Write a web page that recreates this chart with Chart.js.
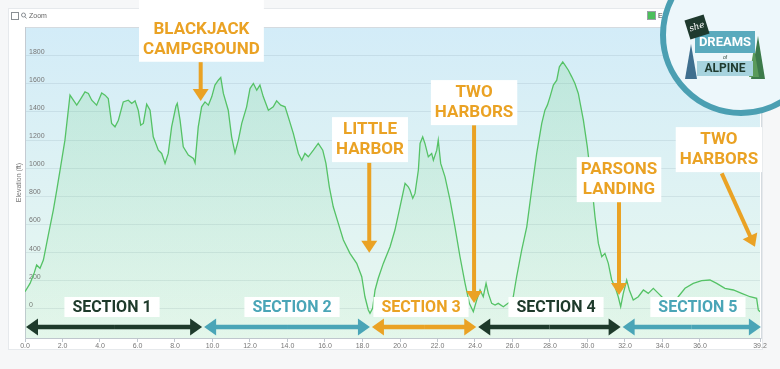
<!DOCTYPE html>
<html>
<head>
<meta charset="utf-8">
<script src="https://cdn.jsdelivr.net/npm/chart.js@4"></script>
<style>
  html, body { margin: 0; padding: 0; background: #f6f7f8; }
  #wrap { width: 780px; height: 369px; }
</style>
</head>
<body>
<div id="wrap"><canvas id="chart" width="780" height="369"></canvas></div>
<script>
// ---------------- data (Catalina trail elevation profile) ----------------
const MILES = [
  0.00, 0.27, 0.50, 0.62, 0.80, 0.98, 1.25, 1.51, 1.70, 1.87, 2.13, 2.40, 2.58, 2.76, 2.93,
  3.20, 3.38, 3.56, 3.82, 4.09, 4.27, 4.44, 4.62, 4.80, 4.98, 5.24, 5.51, 5.69, 5.87, 6.04,
  6.17, 6.31, 6.49, 6.67, 6.84, 7.11, 7.29, 7.47, 7.64, 7.82, 8.05, 8.12, 8.27, 8.44, 8.71,
  8.98, 9.07, 9.24, 9.42, 9.60, 9.78, 9.96, 10.13, 10.31, 10.44, 10.58, 10.84, 11.02, 11.20,
  11.38, 11.56, 11.82, 12.00, 12.18, 12.36, 12.53, 12.71, 12.98, 13.24, 13.42, 13.64, 13.87,
  14.04, 14.31, 14.58, 14.76, 14.93, 15.11, 15.38, 15.64, 15.88, 16.05, 16.23, 16.44, 16.71,
  16.98, 17.33, 17.69, 17.96, 18.13, 18.31, 18.40, 18.54, 18.67, 18.84, 19.11, 19.47, 19.73,
  20.00, 20.27, 20.44, 20.53, 20.68, 20.80, 20.98, 21.07, 21.21, 21.33, 21.51, 21.69, 21.78,
  21.96, 22.04, 22.17, 22.40, 22.67, 22.93, 23.20, 23.47, 23.70, 23.91, 24.09, 24.27, 24.44,
  24.59, 24.71, 24.89, 25.07, 25.24, 25.51, 25.87, 26.04, 26.22, 26.49, 26.76, 27.02, 27.29,
  27.56, 27.73, 27.86, 28.00, 28.18, 28.36, 28.50, 28.68, 28.80, 28.98, 29.16, 29.33, 29.51,
  29.78, 29.99, 30.22, 30.40, 30.58, 30.76, 30.93, 31.11, 31.29, 31.47, 31.64, 31.77, 31.91,
  32.09, 32.23, 32.44, 32.71, 32.98, 33.24, 33.51, 33.78, 33.96, 34.30, 34.60, 34.84, 35.20,
  35.64, 36.09, 36.53, 36.89, 37.33, 37.78, 38.22, 38.67, 39.02, 39.11, 39.20
];
const ELEV_FT = [
  123, 182, 260, 312, 289, 348, 530, 703, 850, 987, 1199, 1519, 1483, 1448, 1483,
  1542, 1531, 1483, 1448, 1535, 1519, 1495, 1318, 1294, 1341, 1471, 1483, 1460, 1478, 1412,
  1306, 1318, 1455, 1412, 1223, 1128, 1105, 1034, 1105, 1294, 1440, 1460, 1341, 1152, 1093,
  1070, 1038, 1294, 1436, 1471, 1448, 1507, 1590, 1625, 1644, 1531, 1412, 1223, 1109,
  1199, 1318, 1436, 1566, 1602, 1554, 1590, 1507, 1412, 1436, 1478, 1448, 1436,
  1365, 1247, 1105, 1057, 1105, 1081, 1128, 1176, 1128, 1034, 868, 726, 608,
  490, 395, 324, 229, 87, -7, -31, 5, 135, 218, 324, 442, 561,
  726, 892, 868, 845, 786, 821, 987, 1176, 1223, 1176, 1081, 1105, 1057,
  1128, 1199, 1034, 939, 774, 584, 371, 182, 40, -19, 64, 135, 87,
  182, 111, 40, 28, 40, 16, 52, 87, 229, 419, 584, 845, 1105,
  1318, 1412, 1448, 1507, 1590, 1625, 1720, 1755, 1732, 1696, 1649, 1602, 1531,
  1341, 1152, 892, 655, 466, 371, 395, 324, 206, 158, 87, 16, 111,
  206, 135, 64, 87, 135, 111, 147, 111, 87, 40, 45, 87, 147,
  182, 201, 206, 182, 147, 135, 111, 87, 76, -7, -20
];
const X_TICKS = [0, 2, 4, 6, 8, 10, 12, 14, 16, 18, 20, 22, 24, 26, 28, 30, 32, 34, 36, 39.2];
const Y_TICKS = [0, 200, 400, 600, 800, 1000, 1200, 1400, 1600, 1800];

// sections along the bottom (miles)
const SECTION_NAMES = ["SECTION 1", "SECTION 2", "SECTION 3", "SECTION 4", "SECTION 5"];
const SECTION_BOUNDS = [0, 9.5, 18.45, 24.12, 31.82, 39.3];
const SECTION_LABEL_MILE = [4.64, 14.24, 21.12, 28.32, 35.89];

// places: label lines, label centre [mile, ft], arrow from / to [mile, ft]
const PLACE_LABELS = [["BLACKJACK", "CAMPGROUND"], ["LITTLE", "HARBOR"], ["TWO", "HARBORS"], ["PARSONS", "LANDING"], ["TWO", "HARBORS"]];
const PLACE_LABEL_AT = [[9.41, 1916], [18.4, 1203], [23.95, 1466], [31.68, 919], [37.01, 1132]];
const PLACE_ARROW_FROM = [[9.37, 1753], [18.36, 1038], [23.95, 1306], [31.68, 759], [37.16, 963]];
const PLACE_ARROW_TO = [[9.37, 1478], [18.36, 400], [23.95, 43], [31.68, 99], [38.93, 442]];

// ---------------- styles ----------------
const ORANGE = "#eaa224";
const DARK = "#1e3a2b";
const TEAL = "#4aa5b7";
const SECTION_COLORS = [DARK, TEAL, ORANGE, DARK, TEAL];
const LINE = "#55c266";
const BIG_FONT = '"Roboto", "Liberation Sans", sans-serif';

Chart.defaults.font.family = '"Liberation Sans", Arial, sans-serif';

// filled arrow head with tip at (x,y) pointing along angle
const arrowHead = (ctx, x, y, ang, len, half) => {
  ctx.save();
  ctx.translate(x, y); ctx.rotate(ang);
  ctx.beginPath();
  ctx.moveTo(0, 0); ctx.lineTo(-len, -half); ctx.lineTo(-len, half); ctx.closePath();
  ctx.fill();
  ctx.restore();
};

const arrow = (ctx, x1, y1, x2, y2, color, w, len, half) => {
  const ang = Math.atan2(y2 - y1, x2 - x1);
  ctx.save();
  ctx.strokeStyle = color; ctx.fillStyle = color; ctx.lineWidth = w;
  ctx.beginPath();
  ctx.moveTo(x1, y1);
  ctx.lineTo(x2 - Math.cos(ang) * (len - 1), y2 - Math.sin(ang) * (len - 1));
  ctx.stroke();
  arrowHead(ctx, x2, y2, ang, len, half);
  ctx.restore();
};

// ---------------- plugins ----------------
const backdrop = {
  id: "backdrop",
  beforeDraw(chart) {
    const { ctx, chartArea: a } = chart;
    ctx.save();
    ctx.fillStyle = "#f6f7f8";
    ctx.fillRect(0, 0, chart.width, chart.height);
    // panel
    ctx.fillStyle = "#ffffff";
    ctx.fillRect(8, 8, 755, 342);
    ctx.strokeStyle = "#e6e9ec"; ctx.lineWidth = 1;
    ctx.strokeRect(8.5, 8.5, 754, 341);
    // plot background
    const g = ctx.createLinearGradient(0, a.top, 0, a.bottom);
    g.addColorStop(0, "#d3ecf8");
    g.addColorStop(1, "#e9f8ef");
    ctx.fillStyle = g;
    ctx.fillRect(a.left, a.top, a.right - a.left, a.bottom - a.top);
    ctx.strokeStyle = "#d5dbe0";
    ctx.strokeRect(a.left + 0.5, a.top + 0.5, a.right - a.left + 1, a.bottom - a.top);
    // zoom checkbox
    ctx.strokeStyle = "#8a8f94";
    ctx.fillStyle = "#fff";
    ctx.fillRect(11.5, 12.5, 7, 7); ctx.strokeRect(11.5, 12.5, 7, 7);
    ctx.beginPath(); ctx.arc(23.5, 15, 2, 0, Math.PI * 2); ctx.stroke();
    ctx.beginPath(); ctx.moveTo(24.8, 16.5); ctx.lineTo(26.5, 18.5); ctx.stroke();
    ctx.fillStyle = "#666"; ctx.font = '7px "Liberation Sans", Arial';
    ctx.textBaseline = "middle";
    ctx.fillText("Zoom", 29, 16.5);
    // legend (partly hidden by logo)
    ctx.fillStyle = "#4cbf5b"; ctx.fillRect(648, 12, 7, 7);
    ctx.strokeStyle = "#9aa0a6"; ctx.strokeRect(647.5, 11.5, 8, 8);
    ctx.fillStyle = "#444"; ctx.fillText("Elevation (ft)", 658, 16);
    ctx.restore();
  }
};

const notes = {
  id: "notes",
  afterDatasetsDraw(chart) {
    const { ctx } = chart;
    const sx = chart.scales.x, sy = chart.scales.y;
    const px = (m) => sx.getPixelForValue(m);
    const py = (f) => sy.getPixelForValue(f);
    ctx.save();
    ctx.textAlign = "center";
    ctx.textBaseline = "middle";

    // section arrows + labels
    const arrowY = py(-128);
    const labelY = py(14);
    SECTION_NAMES.forEach((name, i) => {
      const x1 = px(SECTION_BOUNDS[i]) + 1, x2 = px(SECTION_BOUNDS[i + 1]) - 1;
      const mid = (x1 + x2) / 2;
      arrow(ctx, mid, arrowY, x2, arrowY, SECTION_COLORS[i], 4.5, 12, 8.5);
      arrow(ctx, mid, arrowY, x1, arrowY, SECTION_COLORS[i], 4.5, 12, 8.5);
      ctx.font = `bold 16px ${BIG_FONT}`;
      const w = ctx.measureText(name).width + 16;
      const cx = px(SECTION_LABEL_MILE[i]);
      ctx.fillStyle = "#ffffff";
      ctx.fillRect(cx - w / 2, labelY - 10, w, 20);
      ctx.fillStyle = SECTION_COLORS[i];
      ctx.fillText(name, cx, labelY + 0.5);
    });

    // place callouts
    PLACE_LABELS.forEach((lines, i) => {
      const [fm, ff] = PLACE_ARROW_FROM[i], [tm, tf] = PLACE_ARROW_TO[i];
      arrow(ctx, px(fm), py(ff), px(tm), py(tf), ORANGE, 4, 12, 8);
      ctx.font = `bold 17px ${BIG_FONT}`;
      const w = Math.max(...lines.map(t => ctx.measureText(t).width)) + 8;
      const cx = px(PLACE_LABEL_AT[i][0]), cy = py(PLACE_LABEL_AT[i][1]);
      let top = cy - 22.5;
      const bottom = cy + 22.5;
      if (top < chart.chartArea.top) top = 0;
      ctx.fillStyle = "#ffffff";
      ctx.fillRect(cx - w / 2, top, w, bottom - top);
      ctx.fillStyle = ORANGE;
      ctx.fillText(lines[0], cx, cy - 9.5);
      ctx.fillText(lines[1], cx, cy + 10.5);
    });
    ctx.restore();
  },
  afterDraw(chart) {
    // "she dreams of alpine" badge, top right
    const { ctx } = chart;
    ctx.save();
    ctx.beginPath();
    ctx.arc(741, 35, 78, 0, Math.PI * 2);
    ctx.fillStyle = "#edf7fb";
    ctx.fill();
    ctx.lineWidth = 6;
    ctx.strokeStyle = "#4b9fb2";
    ctx.stroke();

    // trees
    const tree = (x, yTop, yBot, half, col) => {
      ctx.fillStyle = col;
      ctx.beginPath();
      ctx.moveTo(x, yTop); ctx.lineTo(x - half, yBot); ctx.lineTo(x + half, yBot); ctx.closePath();
      ctx.fill();
    };
    tree(691, 44, 79, 6, "#3f6f8f");
    tree(758, 36, 79, 7, "#3c7a4a");
    tree(754, 48, 77, 5, "#5a9a5a");

    ctx.fillStyle = "#5aaabd";
    ctx.fillRect(695, 31, 60, 22);
    ctx.fillStyle = "#a7d3de";
    ctx.fillRect(697, 61, 56, 15);

    ctx.save();
    ctx.translate(697, 27); ctx.rotate(-0.3);
    ctx.fillStyle = "#1f3a2e";
    ctx.fillRect(-10, -10, 20, 20);
    ctx.fillStyle = "#fff";
    ctx.font = 'italic 9px "DejaVu Serif", serif';
    ctx.textAlign = "center"; ctx.textBaseline = "middle";
    ctx.fillText("she", 0, 0);
    ctx.restore();

    ctx.textAlign = "center"; ctx.textBaseline = "middle";
    ctx.fillStyle = "#ffffff";
    ctx.font = `bold 13px ${BIG_FONT}`;
    ctx.fillText("DREAMS", 725, 43);
    ctx.fillStyle = "#1f3a2e";
    ctx.font = '5px "Liberation Sans", Arial';
    ctx.fillText("of", 725, 57.5);
    ctx.font = `bold 12px ${BIG_FONT}`;
    ctx.fillText("ALPINE", 725, 69);
    ctx.restore();
  }
};

// ---------------- chart ----------------
const ctx = document.getElementById("chart").getContext("2d");
new Chart(ctx, {
  type: "line",
  data: {
    datasets: [{
      label: "Elevation (ft)",
      data: MILES.map((m, i) => ({ x: m, y: ELEV_FT[i] })),
      borderColor: LINE,
      borderWidth: 1.3,
      pointRadius: 0,
      tension: 0,
      fill: "start",
      backgroundColor: (c) => {
        const a = c.chart.chartArea;
        if (!a) return "rgba(95,205,115,0.12)";
        const g = c.chart.ctx.createLinearGradient(0, a.top, 0, a.bottom);
        g.addColorStop(0, "rgba(95,205,115,0.22)");
        g.addColorStop(1, "rgba(95,205,115,0.04)");
        return g;
      }
    }]
  },
  options: {
    responsive: false,
    animation: false,
    layout: { padding: { top: 27, right: 20, bottom: 0, left: 0 } },
    plugins: { legend: { display: false }, tooltip: { enabled: false } },
    scales: {
      x: {
        type: "linear",
        min: 0, max: 39.2,
        afterBuildTicks: (s) => { s.ticks = X_TICKS.map(v => ({ value: v })); },
        afterFit: (s) => { s.height = 31; },
        ticks: {
          callback: (v) => Number(v).toFixed(1),
          font: { size: 7 }, color: "#777",
          padding: 0, maxRotation: 0, autoSkip: false
        },
        grid: { drawOnChartArea: false, tickLength: 4, color: "#bfc6cd" },
        border: { color: "#bfc6cd" }
      },
      y: {
        min: -206, max: 2003,
        afterBuildTicks: (s) => { s.ticks = Y_TICKS.map(v => ({ value: v })); },
        afterFit: (s) => { s.width = 25; },
        ticks: {
          callback: (v) => String(v),
          mirror: true, padding: 4, labelOffset: -4, font: { size: 7 }, color: "#777"
        },
        grid: { color: "rgba(60,90,110,0.10)", drawTicks: false },
        border: { color: "#c4cbd2" },
        title: { display: true, text: "Elevation (ft)", font: { size: 7 }, color: "#777", padding: { top: 15, bottom: 0 } }
      }
    }
  },
  plugins: [backdrop, notes]
});
</script>
</body>
</html>
